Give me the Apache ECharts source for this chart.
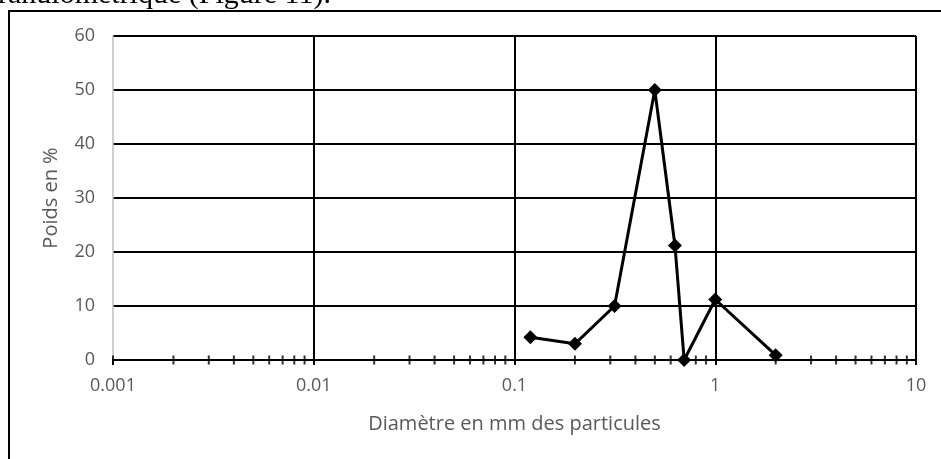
<!DOCTYPE html>
<html>
<head>
<meta charset="utf-8">
<script src="https://cdn.jsdelivr.net/npm/echarts@6/dist/echarts.min.js"></script>
<style>
  html, body { margin: 0; padding: 0; background: #fff; }
  #chart { width: 941px; height: 459px; }
</style>
</head>
<body>
<div id="chart"></div>
<script>
// granulometry values
const diameters = [0.12, 0.2, 0.315, 0.5, 0.63, 0.7, 1, 2];
const poids = [4.2, 3, 10, 50, 21.2, 0, 11.2, 0.9];
const yTicks = [0, 10, 20, 30, 40, 50, 60];
const decades = [0.001, 0.01, 0.1, 1, 10];
const minorSteps = [2, 3, 4, 5, 6, 7, 8, 9];

// small tick marks between decades (crossing the x axis like in Excel)
const minorTicks = [[0.001, 0]];
decades.slice(0, -1).forEach(function (d) {
  minorSteps.forEach(function (k) {
    minorTicks.push([Number((d * k).toPrecision(6)), 0]);
  });
});

const chart = echarts.init(document.getElementById("chart"));

const option = {
  animation: false,
  backgroundColor: "#fff",
  textStyle: { fontFamily: "Open Sans" },
  grid: { left: 113, right: 25, top: 36, bottom: 99 },
  xAxis: {
    type: "log",
    logBase: 10,
    min: decades[0],
    max: decades[decades.length - 1],
    name: "Diamètre en mm des particules",
    nameLocation: "middle",
    nameGap: 54,
    nameTextStyle: { color: "#595959", fontSize: 20 },
    axisLine: { lineStyle: { color: "#000", width: 2 } },
    axisTick: { show: true, length: 5, lineStyle: { color: "#000", width: 2 } },
    axisLabel: {
      color: "#595959",
      fontSize: 18,
      margin: 17,
      formatter: function (v) {
        return String(Number(v.toPrecision(6)));
      },
    },
    splitLine: {
      show: true,
      showMinLine: false,
      lineStyle: { color: "#000", width: 2 },
    },
  },
  yAxis: {
    type: "value",
    min: yTicks[0],
    max: yTicks[yTicks.length - 1],
    interval: 10,
    name: "Poids en %",
    nameLocation: "middle",
    nameGap: 52,
    nameTextStyle: { color: "#595959", fontSize: 20 },
    axisLine: { show: true, lineStyle: { color: "#bfbfbf", width: 1.5 } },
    axisTick: { show: false },
    axisLabel: { color: "#595959", fontSize: 18, margin: 18 },
    splitLine: { show: true, lineStyle: { color: "#000", width: 2 } },
  },
  series: [
    {
      type: "scatter",
      data: minorTicks,
      symbol: "rect",
      symbolSize: [2, 9],
      itemStyle: { color: "#000" },
      silent: true,
      clip: false,
      z: 3,
    },
    {
      type: "line",
      data: diameters.map(function (d, i) {
        return [d, poids[i]];
      }),
      symbol: "diamond",
      symbolSize: 14,
      showAllSymbol: true,
      lineStyle: { color: "#000", width: 3 },
      itemStyle: { color: "#000" },
      clip: false,
      z: 4,
    },
  ],
  graphic: [
    {
      type: "rect",
      shape: { x: 9, y: 11, width: 960, height: 480 },
      style: { fill: null, stroke: "#000", lineWidth: 2 },
      silent: true,
    },
    {
      type: "text",
      left: -2,
      top: -20,
      style: {
        text: "ranulométrique (Figure 11).",
        fontFamily: "Liberation Serif",
        fontSize: 30,
        fill: "#000",
      },
      silent: true,
    },
  ],
};

chart.setOption(option);
</script>
</body>
</html>
